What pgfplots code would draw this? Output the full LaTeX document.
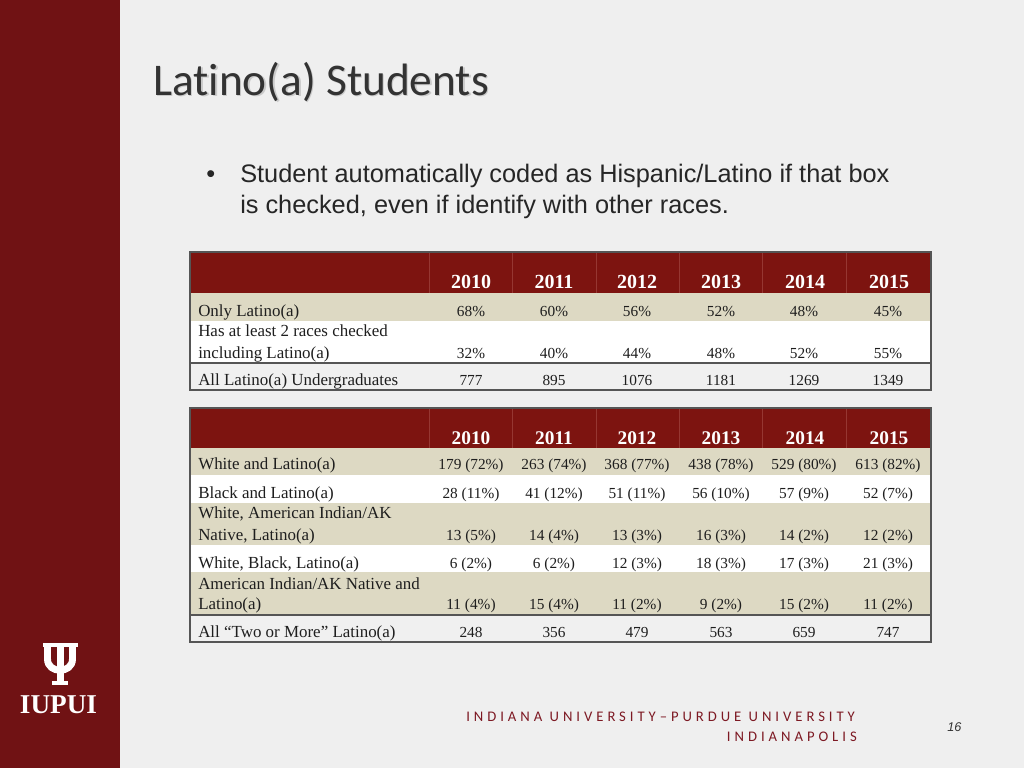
\documentclass[border=0pt]{standalone}
\usepackage{pgfplots}
\pgfplotsset{compat=1.18}
\usepackage{pgfplotstable}
\usepackage{fontspec}
\setmainfont{Liberation Serif}
\newfontfamily\carlito[Ligatures=NoCommon]{Carlito}
\newfontfamily\arialf{Liberation Sans}
\newfontfamily\spaced[LetterSpace=27]{Carlito}
\definecolor{bandred}{RGB}{112,18,20}
\definecolor{headred}{RGB}{125,20,16}
\definecolor{sepred}{RGB}{150,55,50}
\definecolor{tan}{RGB}{221,217,195}
\definecolor{lgray}{RGB}{240,240,240}
\definecolor{slidebg}{RGB}{239,239,239}
\definecolor{border}{RGB}{85,85,85}
\definecolor{txt}{RGB}{30,30,30}
\definecolor{foot}{RGB}{125,25,35}

\pgfplotstableread{
x y t
471 316 {68\%}
554 316 {60\%}
637 316 {56\%}
721 316 {52\%}
804 316 {48\%}
888 316 {45\%}
471 358 {32\%}
554 358 {40\%}
637 358 {44\%}
721 358 {48\%}
804 358 {52\%}
888 358 {55\%}
471 385 777
554 385 895
637 385 1076
721 385 1181
804 385 1269
888 385 1349
}\tabA

\pgfplotstableread{
x y t
471 469 {179 (72\%)}
554 469 {263 (74\%)}
637 469 {368 (77\%)}
721 469 {438 (78\%)}
804 469 {529 (80\%)}
888 469 {613 (82\%)}
471 498 {28 (11\%)}
554 498 {41 (12\%)}
637 498 {51 (11\%)}
721 498 {56 (10\%)}
804 498 {57 (9\%)}
888 498 {52 (7\%)}
471 540 {13 (5\%)}
554 540 {14 (4\%)}
637 540 {13 (3\%)}
721 540 {16 (3\%)}
804 540 {14 (2\%)}
888 540 {12 (2\%)}
471 568 {6 (2\%)}
554 568 {6 (2\%)}
637 568 {12 (3\%)}
721 568 {18 (3\%)}
804 568 {17 (3\%)}
888 568 {21 (3\%)}
471 609 {11 (4\%)}
554 609 {15 (4\%)}
637 609 {11 (2\%)}
721 609 {9 (2\%)}
804 609 {15 (2\%)}
888 609 {11 (2\%)}
471 637 248
554 637 356
637 637 479
721 637 563
804 637 659
888 637 747
}\tabB

\begin{document}
\begin{tikzpicture}
\begin{axis}[scale only axis, width=768pt, height=576pt,
  xmin=0, xmax=1024, ymin=0, ymax=768, y dir=reverse,
  axis lines=none, ticks=none, clip=false,
  every node near coord/.append style={anchor=base, inner sep=0pt, text=txt, font=\fontsize{11.5}{13}\selectfont}]
% background
\fill[slidebg] (axis cs:0,0) rectangle (axis cs:1024,768);
\fill[bandred] (axis cs:0,0) rectangle (axis cs:120,768);
% logo
\fill[white] (axis cs:56.5,643) rectangle (axis cs:63.5,685);
\fill[white] (axis cs:53.5,643) rectangle (axis cs:66.5,646.5);
\fill[white] (axis cs:52,681) rectangle (axis cs:68,685);
\fill[white] (axis cs:42.5,643) rectangle (axis cs:56,646.5);
\fill[white] (axis cs:64,643) rectangle (axis cs:77.5,646.5);
\draw[white, line width=5.2pt] (axis cs:47.5,645) -- (axis cs:47.5,659) .. controls (axis cs:47.5,674) and (axis cs:72.5,674) .. (axis cs:72.5,659) -- (axis cs:72.5,645);
\node[anchor=base, text=white, font=\bfseries\fontsize{20.4}{24}\selectfont, inner sep=0pt] at (axis cs:58.5,713) {IUPUI};
% title
\node[anchor=base west, inner sep=0pt, text=gray!60, opacity=0.6, font=\carlito\fontsize{34}{40}\selectfont] at (axis cs:154.5,96.5) {Latino(a) Students};
\node[anchor=base west, inner sep=0pt, text=black!80, font=\carlito\fontsize{34}{40}\selectfont] at (axis cs:153,95) {Latino(a) Students};
% bullet
\node[anchor=base west, inner sep=0pt, text=black!85, font=\arialf\fontsize{19}{22}\selectfont] at (axis cs:206,182.5) {\textbullet};
\node[anchor=base west, inner sep=0pt, text=black!85, font=\arialf\fontsize{19}{22}\selectfont] at (axis cs:240,182.5) {Student automatically coded as Hispanic/Latino if that box};
\node[anchor=base west, inner sep=0pt, text=black!85, font=\arialf\fontsize{19}{22}\selectfont] at (axis cs:240,213) {is checked, even if identify with other races.};
% ---- table 1
\fill[headred] (axis cs:190,252) rectangle (axis cs:931,293);
\fill[tan] (axis cs:190,293) rectangle (axis cs:931,321);
\fill[white] (axis cs:190,321) rectangle (axis cs:931,363);
\fill[lgray] (axis cs:190,363) rectangle (axis cs:931,390);
\pgfplotsinvokeforeach{429,512,596,679,762,846}{\draw[sepred, line width=0.5pt] (axis cs:#1,253) -- (axis cs:#1,293);}
\draw[border, line width=1pt] (axis cs:190,363) -- (axis cs:931,363);
\draw[border, line width=1.1pt] (axis cs:190,252) rectangle (axis cs:931,390);
\begin{scope}[every node/.style={anchor=base, inner sep=0pt, text=white, font=\bfseries\fontsize{15}{17}\selectfont}]
\node at (axis cs:471,288) {2010};
\node at (axis cs:554,288) {2011};
\node at (axis cs:637,288) {2012};
\node at (axis cs:721,288) {2013};
\node at (axis cs:805,288) {2014};
\node at (axis cs:889,288) {2015};
\end{scope}
\begin{scope}[every node/.style={anchor=base west, inner sep=0pt, text=txt, font=\fontsize{12.7}{15}\selectfont}]
\node at (axis cs:198,316) {Only Latino(a)};
\node at (axis cs:198,336) {Has at least 2 races checked};
\node at (axis cs:198,358) {including Latino(a)};
\node at (axis cs:198,385) {All Latino(a) Undergraduates};
\end{scope}
\addplot[draw=none, mark=none, nodes near coords, point meta=explicit symbolic] table[x=x, y=y, meta=t] {\tabA};
% ---- table 2
\fill[headred] (axis cs:190,408) rectangle (axis cs:931,448);
\fill[tan] (axis cs:190,448) rectangle (axis cs:931,475);
\fill[white] (axis cs:190,475) rectangle (axis cs:931,503);
\fill[tan] (axis cs:190,503) rectangle (axis cs:931,545);
\fill[white] (axis cs:190,545) rectangle (axis cs:931,572);
\fill[tan] (axis cs:190,572) rectangle (axis cs:931,615);
\fill[lgray] (axis cs:190,615) rectangle (axis cs:931,642);
\pgfplotsinvokeforeach{429,512,596,679,762,846}{\draw[sepred, line width=0.5pt] (axis cs:#1,409) -- (axis cs:#1,448);}
\draw[border, line width=1pt] (axis cs:190,615) -- (axis cs:931,615);
\draw[border, line width=1.1pt] (axis cs:190,408) rectangle (axis cs:931,642);
\begin{scope}[every node/.style={anchor=base, inner sep=0pt, text=white, font=\bfseries\fontsize{14.5}{17}\selectfont}]
\node at (axis cs:471,444) {2010};
\node at (axis cs:554,444) {2011};
\node at (axis cs:637,444) {2012};
\node at (axis cs:721,444) {2013};
\node at (axis cs:805,444) {2014};
\node at (axis cs:889,444) {2015};
\end{scope}
\begin{scope}[every node/.style={anchor=base west, inner sep=0pt, text=txt, font=\fontsize{12.7}{15}\selectfont}]
\node at (axis cs:198,469) {White and Latino(a)};
\node at (axis cs:198,498) {Black and Latino(a)};
\node at (axis cs:198,518) {White, American Indian/AK};
\node at (axis cs:198,540) {Native, Latino(a)};
\node at (axis cs:198,568) {White, Black, Latino(a)};
\node at (axis cs:198,589) {American Indian/AK Native and};
\node at (axis cs:198,609) {Latino(a)};
\node at (axis cs:198,637) {All \textquotedblleft Two or More\textquotedblright\ Latino(a)};
\end{scope}
\addplot[draw=none, mark=none, nodes near coords, point meta=explicit symbolic] table[x=x, y=y, meta=t] {\tabB};
% footer
\node[anchor=base west, inner sep=0pt, text=foot, font=\spaced\fontsize{11}{13}\selectfont] at (axis cs:466,721) {INDIANA UNIVERSITY\textendash PURDUE UNIVERSITY};
\node[anchor=base east, inner sep=0pt, text=foot, font=\spaced\fontsize{11}{13}\selectfont] at (axis cs:857,741) {INDIANAPOLIS};
\node[anchor=base west, inner sep=0pt, text=black!80, font=\arialf\itshape\fontsize{9.5}{11}\selectfont] at (axis cs:947,731) {16};
\end{axis}
\end{tikzpicture}
\end{document}
